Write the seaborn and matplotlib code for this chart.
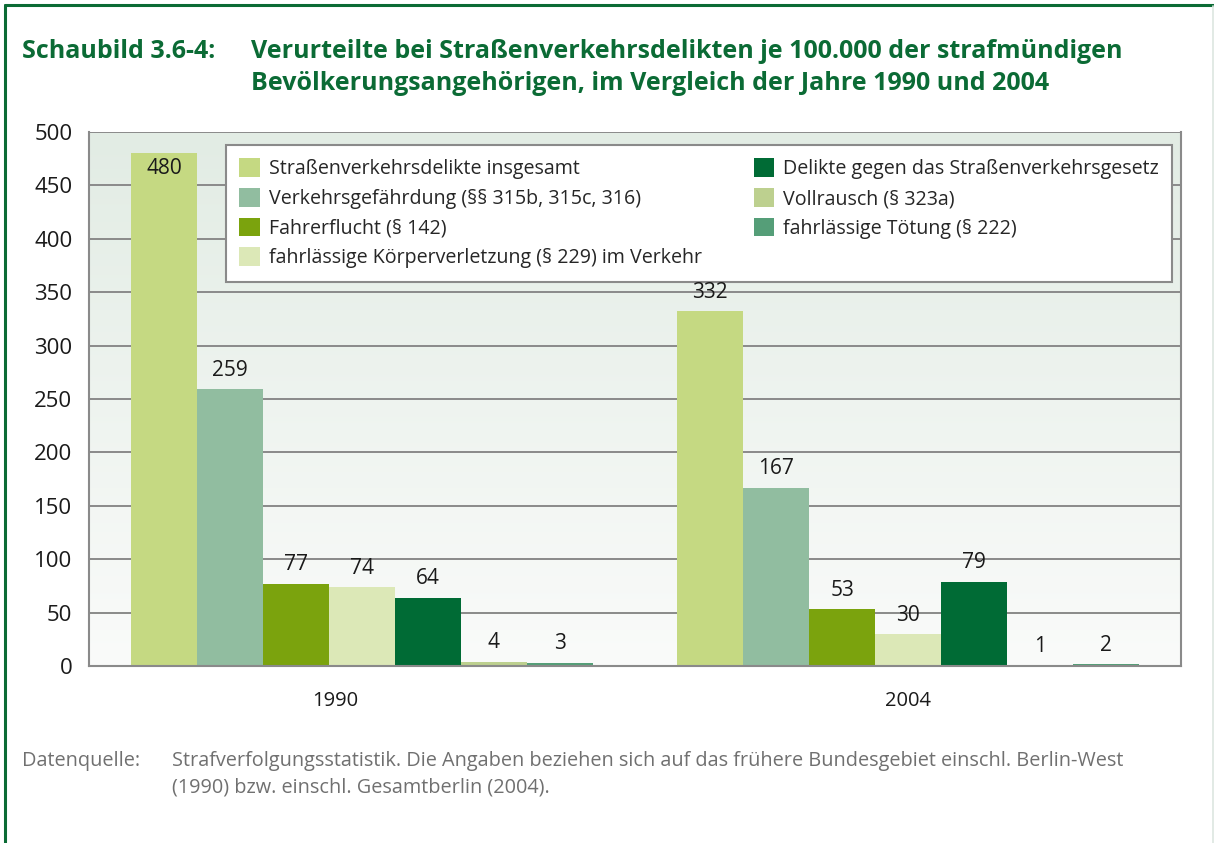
import numpy as np
import pandas as pd
import matplotlib
matplotlib.use("Agg")
import matplotlib.pyplot as plt
from matplotlib.colors import LinearSegmentedColormap
from matplotlib.lines import Line2D
from matplotlib.transforms import ScaledTranslation
import seaborn as sns

# --- data -------------------------------------------------------------
years = ["1990", "2004"]
offences = [
    "Straßenverkehrsdelikte insgesamt",
    "Verkehrsgefährdung (§§ 315b, 315c, 316)",
    "Fahrerflucht (§ 142)",
    "fahrlässige Körperverletzung (§ 229) im Verkehr",
    "Delikte gegen das Straßenverkehrsgesetz",
    "Vollrausch (§ 323a)",
    "fahrlässige Tötung (§ 222)",
]
values_1990 = [480, 259, 77, 74, 64, 4, 3]
values_2004 = [332, 167, 53, 30, 79, 1, 2]
colors = ["#C5D982", "#91BDA0", "#7BA30D", "#DCE8B7", "#006B35", "#BDD08F", "#559E78"]
y_ticks = [0, 50, 100, 150, 200, 250, 300, 350, 400, 450, 500]

title_left = "Schaubild 3.6-4:"
title_lines = ["Verurteilte bei Straßenverkehrsdelikten je 100.000 der strafmündigen",
               "Bevölkerungsangehörigen, im Vergleich der Jahre 1990 und 2004"]
source_label = "Datenquelle:"
source_lines = ["Strafverfolgungsstatistik. Die Angaben beziehen sich auf das frühere "
                "Bundesgebiet einschl. Berlin-West",
                "(1990) bzw. einschl. Gesamtberlin (2004)."]

df = pd.DataFrame({
    "Jahr": [y for y in years for _ in offences],
    "Delikt": offences * len(years),
    "Wert": values_1990 + values_2004,
})

# --- style ------------------------------------------------------------
sns.set_theme(style="white")
plt.rcParams["font.family"] = ["Open Sans", "DejaVu Sans"]
GREEN = "#0B6B35"
GRID = "#8A8A8A"
INK = "#1A1A1A"
W, H = 1214, 843

fig = plt.figure(figsize=(W / 100, H / 100), dpi=100)
ax = fig.add_axes([89 / W, 1 - 666 / H, (1181 - 89) / W, (666 - 132) / H])

sns.barplot(data=df, x="Jahr", y="Wert", hue="Delikt", order=years,
            hue_order=offences, palette=colors, saturation=1, width=0.845,
            linewidth=0, errorbar=None, ax=ax, zorder=2)

# soft vertical gradient behind the plot area
grad = LinearSegmentedColormap.from_list("bg", ["#FAFBFA", "#E2ECE4"])
ax.imshow(np.linspace(0, 1, 256)[:, None], extent=(-0.5, 1.5, 0, 500),
          origin="lower", aspect="auto", cmap=grad, zorder=0.1)

ax.set_xlim(-0.5, 1.5)
ax.set_ylim(0, 500)
ax.set_yticks(y_ticks)
ax.yaxis.grid(True, color=GRID, linewidth=1.4, zorder=0.5)
ax.set_axisbelow(True)
ax.set_xlabel("")
ax.set_ylabel("")

for side in ["left", "right", "bottom"]:
    ax.spines[side].set_visible(True)
    ax.spines[side].set_color(GRID)
    ax.spines[side].set_linewidth(1.5)
ax.spines["top"].set_visible(False)

ax.tick_params(axis="y", length=0, pad=12, labelsize=16, labelcolor=INK)
ax.tick_params(axis="x", which="major", length=0, pad=18, labelsize=14.5, labelcolor=INK)
ax.set_xticks([-0.5, 1.5], minor=True)
ax.tick_params(axis="x", which="minor", length=10, width=1.5, color=GRID, direction="out")
# the first year label sits a little left of its group
first = ax.get_xticklabels()[0]
first.set_transform(first.get_transform() + ScaledTranslation(-27 / 100, 0, fig.dpi_scale_trans))

# value labels
for container in ax.containers:
    for bar in container:
        h = bar.get_height()
        xc = bar.get_x() + bar.get_width() / 2
        if h > 450:
            ax.annotate(f"{h:.0f}", (xc, h), xytext=(0, -3), textcoords="offset points",
                        ha="center", va="top", fontsize=15, color=INK, zorder=5)
        else:
            ax.annotate(f"{h:.0f}", (xc, h), xytext=(0, 6), textcoords="offset points",
                        ha="center", va="bottom", fontsize=15, color=INK, zorder=5)

# legend
handles, labels = ax.get_legend_handles_labels()
leg = ax.legend(handles, labels, ncol=2, mode="expand",
                bbox_to_anchor=((226 - 89) / 1092, (666 - 283) / 534,
                                (1172 - 226) / 1092, (283 - 145) / 534),
                loc="upper left",
                fontsize=14.1, frameon=True, fancybox=False, framealpha=1,
                edgecolor=GRID, handlelength=1.05, handleheight=1.1,
                handletextpad=0.45, labelspacing=0.44, borderpad=0.68, borderaxespad=0)
leg.get_frame().set_linewidth(1.5)
leg.set_zorder(4)

# title
fig.text(22 / W, 1 - 52 / H, title_left, fontsize=18, fontweight="bold",
         color=GREEN, va="center", ha="left")
for i, line in enumerate(title_lines):
    fig.text(251 / W, 1 - (52 + 31 * i) / H, line, fontsize=18, fontweight="bold",
             color=GREEN, va="center", ha="left")

# source note
fig.text(22 / W, 1 - 761 / H, source_label, fontsize=14.3, color="#707070",
         va="center", ha="left")
for i, line in enumerate(source_lines):
    fig.text(172 / W, 1 - (761 + 26 * i) / H, line, fontsize=14.3, color="#707070",
             va="center", ha="left")

# page frame
fig.add_artist(Line2D([5 / W, 5 / W], [0, 1 - 5 / H], color=GREEN, lw=2.2,
                      transform=fig.transFigure))
fig.add_artist(Line2D([5 / W, 1], [1 - 5 / H, 1 - 5 / H], color=GREEN, lw=2.2,
                      transform=fig.transFigure))
fig.add_artist(Line2D([1212.5 / W, 1212.5 / W], [0, 1 - 6 / H], color="#DDE6E0",
                      lw=1.2, transform=fig.transFigure))

fig.savefig("out.png", dpi=100, facecolor="white")
